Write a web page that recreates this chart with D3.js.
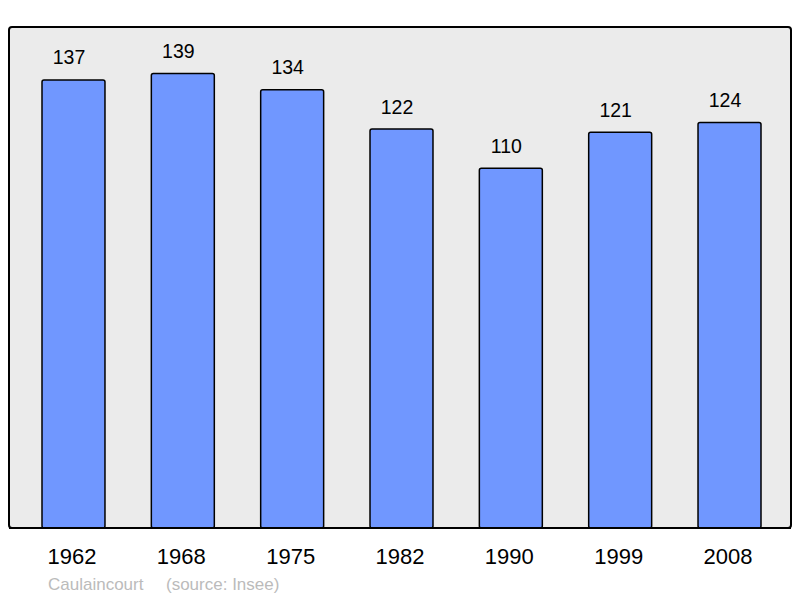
<!DOCTYPE html>
<html>
<head>
<meta charset="utf-8">
<script src="https://cdn.jsdelivr.net/npm/d3@7"></script>
<style>
body { margin: 0; background: #fff; }
svg { display: block; font-family: "Liberation Sans", Arial, sans-serif; }
</style>
</head>
<body>
<svg id="chart" width="800" height="598"></svg>
<script>
var years = ["1962", "1968", "1975", "1982", "1990", "1999", "2008"];
var population = [137, 139, 134, 122, 110, 121, 124];
var commune = "Caulaincourt";
var source = "(source: Insee)";

var svg = d3.select("#chart");

var panel = { left: 9, top: 27, right: 791, bottom: 528 };

// background panel
svg.append("rect")
	.attr("x", panel.left)
	.attr("y", panel.top)
	.attr("width", panel.right - panel.left)
	.attr("height", panel.bottom - panel.top)
	.attr("rx", 3)
	.style("fill", "#ebebeb")
	.style("stroke", "#000")
	.style("stroke-width", 2);

var x = d3.scaleBand()
	.domain(years)
	.range([42, 761])
	.paddingInner(0.424)
	.paddingOuter(0);

var y = d3.scaleLinear()
	.domain([0, 153.2])
	.range([panel.bottom, panel.top]);

var data = years.map(function(d, i) {
	return { year: d, value: population[i] };
});

svg.selectAll(".bar")
	.data(data)
	.enter()
	.append("rect")
	.attr("class", "bar")
	.attr("x", function(d) { return x(d.year); })
	.attr("y", function(d) { return y(d.value); })
	.attr("width", x.bandwidth())
	.attr("height", function(d) { return y(0) - y(d.value); })
	.attr("rx", 2)
	.style("fill", "#7097ff")
	.style("stroke", "#000")
	.style("stroke-width", 1.5);

// value labels (sit a little left of the bar centre in the original)
svg.selectAll(".val")
	.data(data)
	.enter()
	.append("text")
	.attr("class", "val")
	.attr("x", function(d) { return x(d.year) + x.bandwidth() / 2 - 4.5; })
	.attr("y", function(d) { return y(d.value) - 15.5; })
	.attr("text-anchor", "middle")
	.style("font-size", "19.5px")
	.style("fill", "#000")
	.text(function(d) { return d.value; });

// redraw bottom border over bars
svg.append("line")
	.attr("x1", panel.left)
	.attr("x2", panel.right)
	.attr("y1", panel.bottom)
	.attr("y2", panel.bottom)
	.style("stroke", "#000")
	.style("stroke-width", 2);

// year labels
svg.selectAll(".year")
	.data(years)
	.enter()
	.append("text")
	.attr("class", "year")
	.attr("x", function(d) { return x(d) + x.bandwidth() / 2 - 1.5; })
	.attr("y", 564)
	.attr("text-anchor", "middle")
	.style("font-size", "22px")
	.style("fill", "#000")
	.text(function(d) { return d; });

svg.append("text")
	.attr("x", 48)
	.attr("y", 590)
	.style("font-size", "17px")
	.style("fill", "#bbbbbb")
	.text(commune);

svg.append("text")
	.attr("x", 166)
	.attr("y", 590)
	.style("font-size", "17px")
	.style("fill", "#bbbbbb")
	.text(source);
</script>
</body>
</html>
